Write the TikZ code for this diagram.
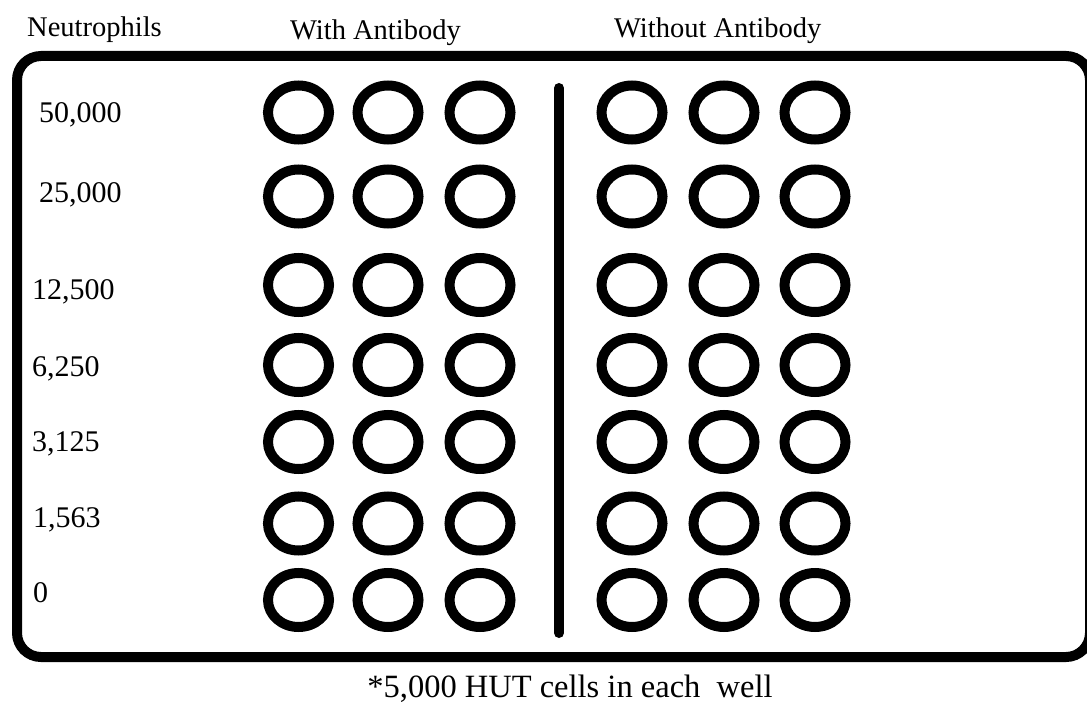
\documentclass[tikz,border=0pt]{standalone}
\usepackage{fontspec}
\setmainfont{Liberation Serif}
\usetikzlibrary{shapes.geometric}
\tikzset{
  well/.style={draw=black, ellipse, line width=10pt, minimum width=61pt, minimum height=54pt, inner sep=0pt},
  plate/.style={draw=black, line width=10pt, rounded corners=24pt},
  divider/.style={draw=black, line width=10pt, line cap=round},
  head/.style={anchor=base west, inner sep=0pt, font=\fontsize{28.5}{30}\selectfont},
  conc/.style={anchor=base west, inner sep=0pt, font=\fontsize{30}{32}\selectfont},
  foot/.style={anchor=base, inner sep=0pt, font=\fontsize{32.5}{34}\selectfont}
}
\begin{document}
\begin{tikzpicture}[x=1pt,y=-1pt]
\useasboundingbox (0,0) rectangle (1087,706);
\fill[white] (0,0) rectangle (1087,706);
% plate outline
\draw[plate] (17,56) rectangle (1090,657);
% headers
\node[head] (hN) at (27,37) {Neutrophils};
\node[head] (hW) at (290,40) {With Antibody};
\node[head] (hWo) at (614,38) {Without Antibody};
% concentrations
\node[conc] (c1) at (39,123) {50,000};
\node[conc] (c2) at (39,202) {25,000};
\node[conc] (c3) at (32,299.5) {12,500};
\node[conc] (c4) at (32,376.5) {6,250};
\node[conc] (c5) at (32,451.5) {3,125};
\node[conc] (c6) at (33,527) {1,563};
\node[conc] (c7) at (33,602) {0};
% wells
\foreach \r/\y in {1/112.5,2/196.5,3/285,4/365,5/442,6/523.5,7/600}{
  \foreach \c/\x in {1/298.5,2/388,3/480,4/632,5/724,6/815}{
    \node[well] (w-\r-\c) at (\x,\y) {};
  }
}
% divider
\coordinate (dtop) at (559,88);
\coordinate (dbot) at (559,633);
\draw[divider] (dtop) -- (dbot);
% footnote
\node[foot] (fn) at (570,697) {*5,000 HUT cells in each~~well};
\end{tikzpicture}
\end{document}
